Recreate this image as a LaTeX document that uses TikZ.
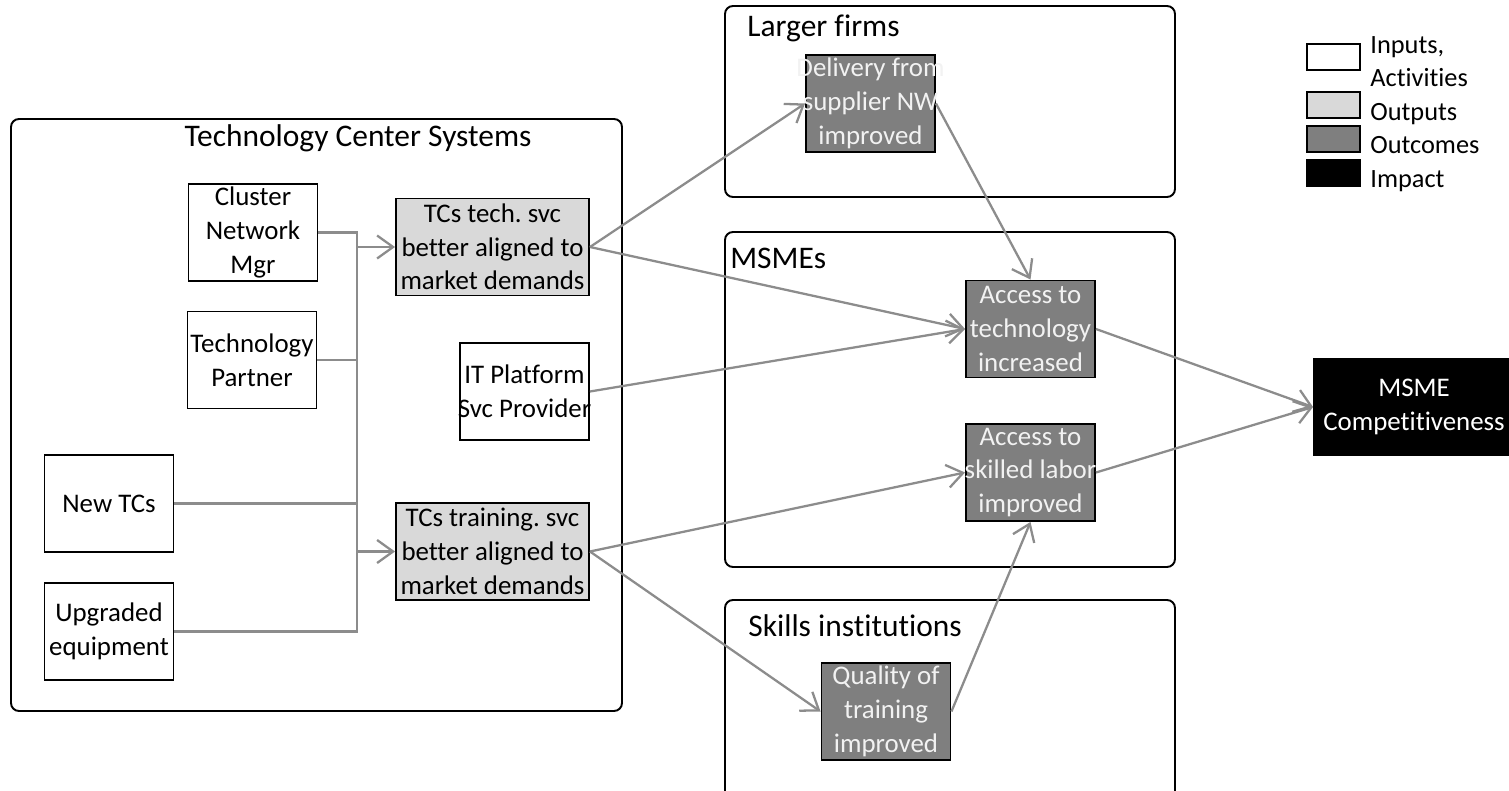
\documentclass[tikz,border=0pt]{standalone}
\usepackage{fontspec}
\setmainfont{Carlito}[Ligatures=NoCommon]
\usepackage{xcolor}
\usepackage{tikz}
\usetikzlibrary{arrows.meta, calc}
\definecolor{outputgray}{HTML}{D9D9D9}
\definecolor{outcomegray}{HTML}{7F7F7F}
\definecolor{linkgray}{HTML}{8C8C8C}
\definecolor{paletext}{HTML}{F2F2F2}
\newcommand{\wideline}[1]{\makebox[\hsize]{#1}}

\begin{document}
\begin{tikzpicture}[x=0.02cm, y=-0.02cm,
    >={Straight Barb[length=0.32cm, width=0.46cm]},
    every node/.style={font=\fontsize{15.3}{19.2}\selectfont},
    box/.style={draw, line width=1.1pt, inner sep=0pt, align=flush center,
        text width=2.58cm, minimum height=1.94cm},
    input/.style={box, fill=white},
    output/.style={box, fill=outputgray, text width=3.86cm},
    outcome/.style={box, fill=outcomegray, text=paletext},
    impact/.style={box, fill=black, text=white, text width=4cm},
    legbox/.style={draw, line width=1.1pt, inner sep=0pt,
        minimum width=1.06cm, minimum height=0.52cm},
    group/.style={draw, line width=1.1pt, rounded corners=0.16cm},
    title/.style={font=\fontsize{17.9}{21}\selectfont, inner sep=0pt},
    flow/.style={draw=linkgray, line width=1.3pt}]
    \useasboundingbox (0,0) rectangle (1509,791);

    % --- frames of the three actor groups ---
    \draw[group] (11,119) rectangle (622,711);
    \draw[group] (725,6) rectangle (1175,197);
    \draw[group] (725,232) rectangle (1175,567);
    \draw[group] (725,600) rectangle (1175,810);
    \node[title] (tcs) at (358,138) {Technology Center Systems};
    \node[title, anchor=west] (large) at (747,28) {Larger firms};
    \node[title, anchor=west] (msmes) at (730,258) {MSMEs};
    \node[title, anchor=west] (skills) at (748,626) {Skills institutions};

    % --- inputs / activities ---
    \node[input] (cnm) at (253,232.5) {Cluster\\Network\\Mgr};
    \node[input] (tp) at (252,360) {Technology\\Partner};
    \node[input] (newtc) at (109,503.5) {New TCs};
    \node[input] (upg) at (109,631.5) {Upgraded\\equipment};
    \node[input] (itp) at (524.5,391.5) {IT Platform\\\wideline{Svc Provider}};

    % --- outputs ---
    \node[output] (tech) at (492.5,247) {TCs tech.\ svc\\better aligned to\\market demands};
    \node[output] (train) at (492.5,551.5) {TCs training.\ svc\\better aligned to\\market demands};

    % --- outcomes ---
    \node[outcome] (deliv) at (870.5,103.5)
        {\wideline{Delivery from}\\\wideline{supplier NW}\\improved};
    \node[outcome] (acctech) at (1030.5,329) {Access to\\technology\\increased};
    \node[outcome] (accskill) at (1030.5,472.5)
        {Access to\\\wideline{skilled labor}\\improved};
    \node[outcome] (qual) at (886,711.5) {Quality of\\training\\improved};

    % --- impact ---
    \node[impact] (msme) at (1414,407) {MSME\\Competitiveness};

    % --- legend ---
    \node[legbox, fill=white] (lgin) at (1333.5,57) {};
    \node[legbox, fill=outputgray] (lgout) at (1333.5,105) {};
    \node[legbox, fill=outcomegray] (lgoc) at (1333.5,139) {};
    \node[legbox, fill=black] (lgimp) at (1333.5,173) {};
    \node[anchor=west, align=left, inner sep=0pt,
        font=\fontsize{15}{19}\selectfont] (lgtext) at (1370,114)
        {Inputs,\\Activities\\Outputs\\Outcomes\\Impact};

    % --- connectors ---
    \coordinate (bus) at (357,0);
    \draw[flow] (cnm.east) -- (cnm.east -| bus) -- (upg.east -| bus) -- (upg.east);
    \draw[flow] (tp.east) -- (tp.east -| bus);
    \draw[flow] (newtc.east) -- (newtc.east -| bus);
    \draw[flow, ->] (tech.west -| bus) -- (tech.west);
    \draw[flow, ->] (train.west -| bus) -- (train.west);
    \draw[flow, ->] (tech.east) -- (deliv.west);
    \draw[flow, ->] (tech.east) -- (acctech.west);
    \draw[flow, ->] (itp.east) -- (acctech.west);
    \draw[flow, ->] (deliv.east) -- (acctech.north);
    \draw[flow, ->] (train.east) -- (accskill.west);
    \draw[flow, ->] (train.east) -- (qual.west);
    \draw[flow, ->] (qual.east) -- (accskill.south);
    \draw[flow, ->] (acctech.east) -- (msme.west);
    \draw[flow, ->] (accskill.east) -- (msme.west);
\end{tikzpicture}
\end{document}
